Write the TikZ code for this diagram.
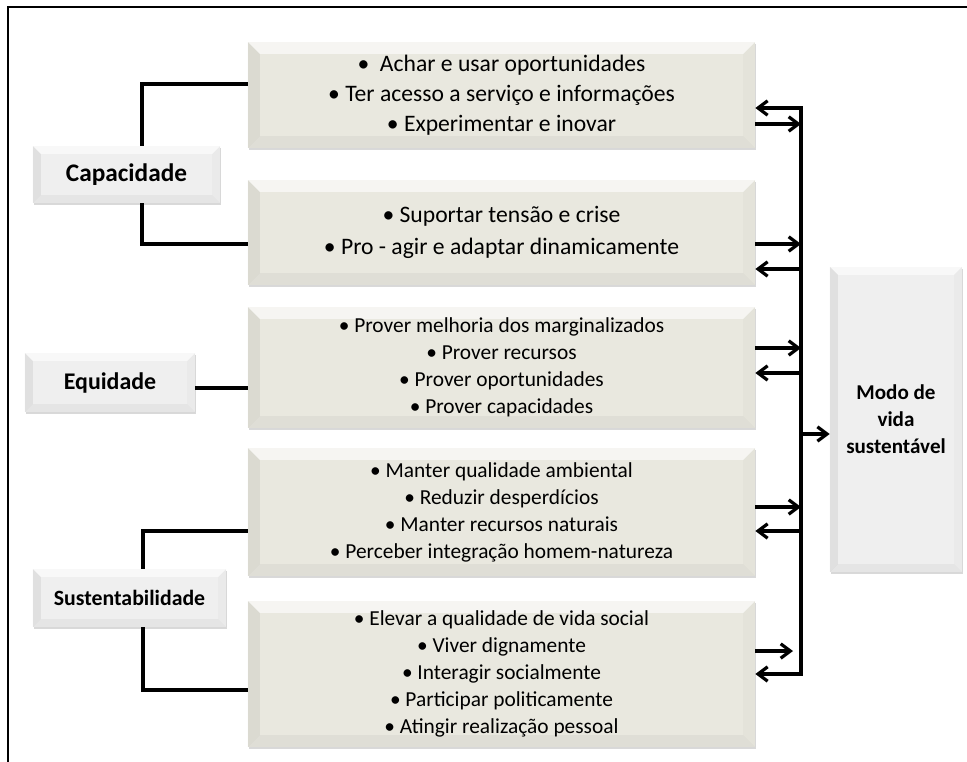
\documentclass[tikz,border=0pt]{standalone}
\usepackage{fontspec}
\setmainfont{Carlito}
\usetikzlibrary{arrows.meta,positioning,shadows}
\definecolor{itemfill}{HTML}{E9E8DF}
\definecolor{tagfill}{HTML}{EFEFEF}
\begin{document}
\begin{tikzpicture}[
  x=0.025cm, y=-0.025cm,
  bevel/.style={path picture={
    \fill[white,opacity=.6] (path picture bounding box.north west) -- (path picture bounding box.north east)
      -- ([xshift=-#1,yshift=-#1]path picture bounding box.north east) -- ([xshift=#1,yshift=-#1]path picture bounding box.north west) -- cycle;
    \fill[black,opacity=.06] (path picture bounding box.north west) -- (path picture bounding box.south west)
      -- ([xshift=#1,yshift=#1]path picture bounding box.south west) -- ([xshift=#1,yshift=-#1]path picture bounding box.north west) -- cycle;
    \fill[black,opacity=.02] (path picture bounding box.north east) -- (path picture bounding box.south east)
      -- ([xshift=-#1,yshift=#1]path picture bounding box.south east) -- ([xshift=-#1,yshift=-#1]path picture bounding box.north east) -- cycle;
    \fill[black,opacity=.04] (path picture bounding box.south west) -- (path picture bounding box.south east)
      -- ([xshift=-#1,yshift=#1]path picture bounding box.south east) -- ([xshift=#1,yshift=#1]path picture bounding box.south west) -- cycle;
  }},
  item/.style={fill=itemfill, bevel=0.3cm, align=center, minimum width=12.675cm,
    drop shadow={shadow xshift=0.4pt, shadow yshift=-1.4pt, opacity=.3}},
  tag/.style={fill=tagfill, bevel=0.2cm, align=center,
    drop shadow={shadow xshift=0.4pt, shadow yshift=-1.4pt, opacity=.3}},
  bigtxt/.style={font=\fontsize{16.8}{21.3}\selectfont},
  smalltxt/.style={font=\fontsize{15.2}{19.2}\selectfont},
  link/.style={line width=2.3pt},
  arr/.style={link, -{Straight Barb[length=2.4mm,width=3.6mm]}},
  both/.style={link, {Straight Barb[length=2.4mm,width=3.6mm]}-{Straight Barb[length=2.4mm,width=3.6mm]}},
  frame/.style={line width=1.5pt}
]
  \useasboundingbox (0,0) rectangle (967,762);
  \draw[frame] (967,7) -| (8,762);

  \node[item, bigtxt, minimum height=2.65cm] (opor) at (501.5,95)
    {•\ \ Achar e usar oportunidades\\• Ter acesso a serviço e informações\\• Experimentar e inovar};
  \node[item, font=\fontsize{16.8}{22.7}\selectfont, minimum height=2.625cm] (crise) at (501.5,232.5)
    {• Suportar tensão e crise\\• Pro - agir e adaptar dinamicamente};
  \node[item, smalltxt, minimum height=3.025cm] (equi) at (501.5,367.5)
    {• Prover melhoria dos marginalizados\\• Prover recursos\\• Prover oportunidades\\• Prover capacidades};
  \node[item, smalltxt, minimum height=3.2cm] (amb) at (501.5,512)
    {• Manter qualidade ambiental\\• Reduzir desperdícios\\• Manter recursos naturais\\• Perceber integração homem-natureza};
  \node[item, smalltxt, minimum height=3.65cm] (social) at (501.5,674)
    {• Elevar a qualidade de vida social\\• Viver dignamente\\• Interagir socialmente\\• Participar politicamente\\• Atingir realização pessoal};

  \node[tag, font=\fontsize{18}{21}\selectfont\bfseries, minimum width=4.675cm, minimum height=1.425cm] (cap) at (126.5,174.5) {Capacidade};
  \node[tag, font=\fontsize{17}{21}\selectfont\bfseries, minimum width=4.25cm, minimum height=1.475cm] (eqd) at (110,382.5) {Equidade};
  \node[tag, font=\fontsize{15.5}{19}\selectfont\bfseries, minimum width=4.825cm, minimum height=1.45cm] (sust) at (129.5,598) {Sustentabilidade};
  \node[tag, font=\fontsize{15}{19.2}\selectfont\bfseries, minimum width=3.3cm, minimum height=7.625cm] (modo) at (896,419.5)
    {Modo de\\vida\\sustentável};

  \draw[link] (cap.north -| 142,0) |- (opor.west |- 0,84);
  \draw[link] (cap.south -| 142,0) |- (crise.west |- 0,244);
  \draw[link] (eqd.east |- 0,388) -- (equi.west |- 0,388);
  \draw[link] (sust.north -| 143,0) |- (amb.west |- 0,531);
  \draw[link] (sust.south -| 143,0) |- (social.west |- 0,690);

  \coordinate (bus) at (801,108);
  \draw[both] (opor.east |- bus) -- (bus) -- (bus |- 0,674) -- (social.east |- 0,674);
  \draw[arr] (opor.east |- 0,124) -- (bus |- 0,124);
  \draw[arr] (crise.east |- 0,244) -- (bus |- 0,244);
  \draw[arr] (bus |- 0,269) -- (crise.east |- 0,269);
  \draw[arr] (equi.east |- 0,348) -- (bus |- 0,348);
  \draw[arr] (bus |- 0,373) -- (equi.east |- 0,373);
  \draw[arr] (bus |- 0,434) -- (modo.west |- 0,434);
  \draw[arr] (amb.east |- 0,507) -- (bus |- 0,507);
  \draw[arr] (bus |- 0,531) -- (amb.east |- 0,531);
  \draw[arr, shorten >=0.2cm] (social.east |- 0,651) -- (bus |- 0,651);
\end{tikzpicture}
\end{document}
